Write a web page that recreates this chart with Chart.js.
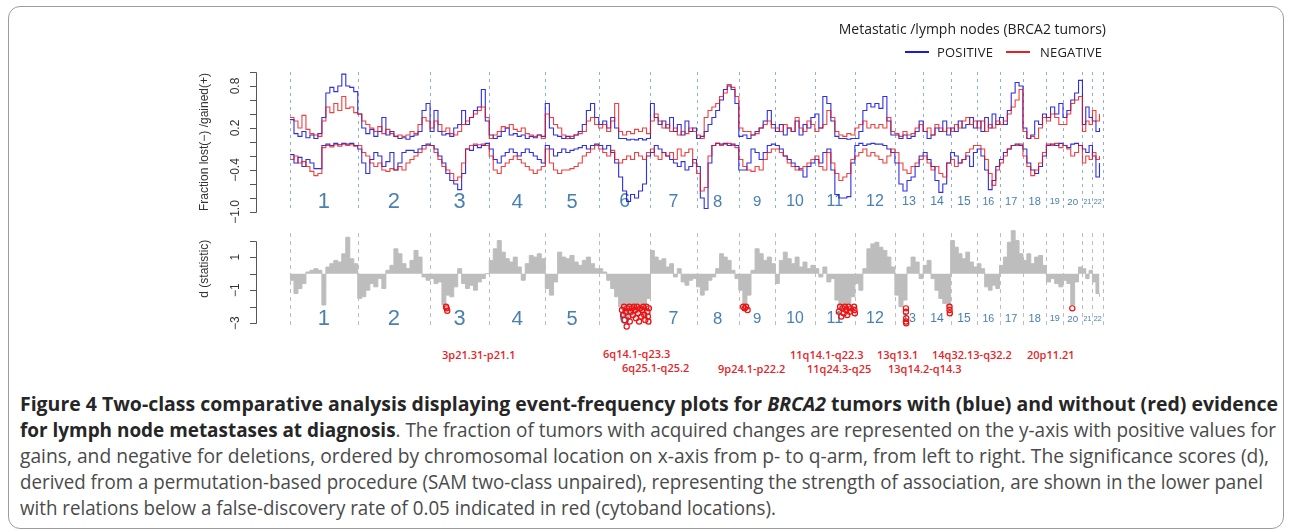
<!DOCTYPE html>
<html>
<head>
<meta charset="utf-8">
<title>Figure 4</title>
<script src="https://cdn.jsdelivr.net/npm/chart.js@4.4.1/dist/chart.umd.min.js"></script>
<style>
body { margin: 0; width: 1292px; height: 531px; background: #fff; overflow: hidden; position: relative; font-family: "Open Sans", sans-serif; }
#frame { position: absolute; left: 8px; top: 6px; width: 1274px; height: 521px; border: 1px solid #9c9c9c; border-radius: 12px; }
canvas { position: absolute; left: 0; }
#topChart { top: 0; }
#botChart { top: 220px; }
.abs { position: absolute; white-space: nowrap; }
#legTitle { right: 186px; top: 19px; font-size: 14px; color: #222; }
.legLine { position: absolute; height: 2px; width: 24px; }
.legText { position: absolute; top: 43px; font-size: 13px; color: #222; letter-spacing: 0.2px; }
.band { position: absolute; white-space: nowrap; font-size: 11px; font-weight: 600; color: #e3262a; line-height: 14px; }
.cap { position: absolute; left: 20px; white-space: nowrap; font-size: 20px; line-height: 26px; color: #4a4a4a; transform-origin: 0 50%; }
.cap b { color: #262626; }
</style>
</head>
<body>
<div id="frame"></div>
<canvas id="topChart" width="1292" height="225"></canvas>
<canvas id="botChart" width="1292" height="118"></canvas>

<div id="legTitle" class="abs">Metastatic /lymph nodes (BRCA2 tumors)</div>
<div class="legLine" style="left:905px; top:51px; background:#1a1ad8;"></div>
<div class="legText" style="left:937px;">POSITIVE</div>
<div class="legLine" style="left:1006px; top:51px; background:#e52222;"></div>
<div class="legText" style="left:1040px;">NEGATIVE</div>

<div id="bands"></div>

<div class="cap" data-fit="1258" style="top:391px;"><b>Figure 4 Two-class comparative analysis displaying event-frequency plots for <i>BRCA2</i> tumors with (blue) and without (red) evidence</b></div>
<div class="cap" data-fit="1256" style="top:417px;"><b>for lymph node metastases at diagnosis</b>. The fraction of tumors with acquired changes are represented on the y-axis with positive values for</div>
<div class="cap" data-fit="1249" style="top:443px;">gains, and negative for deletions, ordered by chromosomal location on x-axis from p- to q-arm, from left to right. The significance scores (d),</div>
<div class="cap" data-fit="1243" style="top:469px;">derived from a permutation-based procedure (SAM two-class unpaired), representing the strength of association, are shown in the lower panel</div>
<div class="cap" style="top:495px;">with relations below a false-discovery rate of 0.05 indicated in red (cytoband locations).</div>

<script>
// chromosomes and their plotted spans (Mb)
var chromosomes = ['1','2','3','4','5','6','7','8','9','10','11','12','13','14','15','16','17','18','19','20','21','22'];
var chromSpan = [237, 253, 207, 196, 187, 181, 161, 148, 128, 138, 140, 140, 99, 96, 93, 78, 82, 82, 58, 68, 35, 37];

// fraction gained / lost, per chromosome, p -> q
var posGain = [
  [0.32,0.12,0.08,0.15,0.06,0.10,0.05,0.12,0.35,0.70,0.78,0.72,0.80,0.97,0.80,0.78,0.72],
  [0.40,0.20,0.12,0.18,0.08,0.15,0.35,0.10,0.15,0.08,0.05,0.06,0.04,0.08,0.10,0.15,0.45,0.55],
  [0.15,0.45,0.15,0.10,0.12,0.08,0.20,0.25,0.45,0.25,0.35,0.45,0.50,0.75,0.30],
  [0.10,0.05,0.08,0.15,0.20,0.10,0.12,0.08,0.10,0.05,0.08,0.06,0.10,0.08],
  [0.55,0.20,0.10,0.08,0.05,0.08,0.05,0.10,0.15,0.25,0.45,0.55,0.35],
  [0.25,0.30,0.20,0.35,0.20,0.05,0.05,0.03,0.04,0.03,0.05,0.03,0.05],
  [0.55,0.35,0.25,0.30,0.20,0.35,0.15,0.25,0.10,0.30,0.15,0.20],
  [0.05,0.08,0.15,0.25,0.35,0.45,0.60,0.75,0.80,0.75,0.55],
  [0.08,0.10,0.05,0.10,0.15,0.20,0.30,0.45,0.25],
  [0.15,0.25,0.10,0.20,0.15,0.30,0.10,0.25,0.20,0.35],
  [0.40,0.20,0.65,0.55,0.30,0.08,0.05,0.05,0.04,0.05],
  [0.05,0.15,0.45,0.55,0.50,0.55,0.48,0.65,0.30,0.10],
  [0.10,0.05,0.10,0.05,0.08,0.15,0.30],
  [0.15,0.05,0.10,0.20,0.15,0.30,0.10],
  [0.20,0.15,0.30,0.20,0.25,0.35,0.20],
  [0.30,0.15,0.35,0.20,0.40,0.25],
  [0.35,0.25,0.45,0.70,0.85,0.80],
  [0.20,0.05,0.10,0.30,0.25,0.40],
  [0.35,0.50,0.40,0.55],
  [0.35,0.45,0.60,0.70,0.88],
  [0.25,0.50,0.35],
  [0.30,0.15,0.20]
];
var negGain = [
  [0.35,0.30,0.20,0.38,0.18,0.12,0.10,0.08,0.30,0.50,0.42,0.55,0.45,0.65,0.48,0.50,0.42],
  [0.40,0.30,0.25,0.20,0.15,0.22,0.12,0.18,0.12,0.08,0.10,0.08,0.10,0.15,0.12,0.25,0.35,0.30],
  [0.20,0.30,0.25,0.15,0.20,0.12,0.10,0.15,0.25,0.30,0.35,0.40,0.45,0.50,0.35],
  [0.05,0.10,0.15,0.22,0.20,0.25,0.18,0.15,0.20,0.12,0.10,0.08,0.10,0.05],
  [0.40,0.35,0.25,0.20,0.10,0.05,0.08,0.10,0.12,0.15,0.30,0.35,0.25],
  [0.20,0.25,0.15,0.30,0.55,0.15,0.10,0.15,0.12,0.18,0.15,0.20,0.12],
  [0.30,0.40,0.30,0.20,0.25,0.15,0.20,0.10,0.15,0.12,0.20,0.15],
  [0.10,0.05,0.35,0.45,0.50,0.55,0.65,0.70,0.82,0.78,0.65],
  [0.20,0.15,0.15,0.10,0.12,0.20,0.25,0.30,0.20],
  [0.20,0.15,0.25,0.20,0.15,0.35,0.20,0.15,0.30,0.25],
  [0.15,0.20,0.25,0.45,0.35,0.15,0.10,0.08,0.12,0.10],
  [0.20,0.25,0.30,0.20,0.25,0.20,0.25,0.20,0.35,0.15],
  [0.12,0.08,0.15,0.10,0.12,0.20,0.25],
  [0.15,0.20,0.10,0.25,0.20,0.15,0.20],
  [0.15,0.25,0.20,0.30,0.35,0.25,0.30],
  [0.20,0.30,0.15,0.25,0.20,0.30],
  [0.25,0.30,0.40,0.50,0.60,0.75],
  [0.15,0.05,0.08,0.05,0.20,0.35],
  [0.30,0.40,0.35,0.25],
  [0.25,0.40,0.55,0.60,0.65],
  [0.15,0.30,0.25],
  [0.45,0.30,0.40]
];
var posLoss = [
  [-0.18,-0.30,-0.22,-0.35,-0.25,-0.30,-0.38,-0.38,-0.05,-0.03,-0.05,-0.02,-0.04,-0.02,-0.03,-0.02,-0.05],
  [-0.10,-0.30,-0.45,-0.25,-0.15,-0.20,-0.35,-0.28,-0.15,-0.40,-0.30,-0.15,-0.12,-0.12,-0.15,-0.10,-0.05,-0.03],
  [-0.05,-0.10,-0.20,-0.30,-0.45,-0.55,-0.60,-0.68,-0.45,-0.10,-0.12,-0.05,-0.08,-0.05,-0.02],
  [-0.10,-0.25,-0.30,-0.20,-0.15,-0.10,-0.15,-0.20,-0.15,-0.10,-0.15,-0.20,-0.25,-0.30],
  [-0.05,-0.10,-0.20,-0.15,-0.10,-0.15,-0.12,-0.10,-0.08,-0.05,-0.10,-0.05,-0.03],
  [-0.05,-0.10,-0.05,-0.15,-0.30,-0.50,-0.70,-0.85,-0.75,-0.80,-0.70,-0.60,-0.20],
  [-0.15,-0.05,-0.10,-0.15,-0.20,-0.25,-0.30,-0.35,-0.28,-0.40,-0.35,-0.25],
  [-0.35,-0.80,-0.95,-0.30,-0.05,-0.02,-0.03,-0.02,-0.05,-0.03,-0.05],
  [-0.40,-0.40,-0.30,-0.10,-0.15,-0.25,-0.15,-0.05,-0.03],
  [-0.05,-0.10,-0.20,-0.25,-0.30,-0.35,-0.40,-0.50,-0.35,-0.30],
  [-0.25,-0.30,-0.15,-0.10,-0.40,-0.75,-0.80,-0.80,-0.78,-0.30],
  [-0.05,-0.02,-0.05,-0.03,-0.02,-0.03,-0.03,-0.05,-0.10,-0.15],
  [-0.30,-0.60,-0.70,-0.55,-0.50,-0.35,-0.20],
  [-0.15,-0.25,-0.35,-0.55,-0.72,-0.60,-0.30],
  [-0.15,-0.20,-0.30,-0.25,-0.20,-0.35,-0.15],
  [-0.10,-0.20,-0.40,-0.68,-0.55,-0.35],
  [-0.25,-0.15,-0.10,-0.05,-0.03,-0.05],
  [-0.10,-0.30,-0.40,-0.45,-0.35,-0.20],
  [-0.05,-0.03,-0.05,-0.02],
  [-0.05,-0.08,-0.03,-0.02,-0.05],
  [-0.10,-0.15,-0.05],
  [-0.20,-0.50,-0.30]
];
var negLoss = [
  [-0.25,-0.20,-0.30,-0.28,-0.35,-0.42,-0.48,-0.45,-0.08,-0.05,-0.07,-0.04,-0.06,-0.03,-0.05,-0.04,-0.06],
  [-0.05,-0.15,-0.20,-0.30,-0.35,-0.30,-0.40,-0.42,-0.38,-0.40,-0.35,-0.40,-0.30,-0.25,-0.20,-0.15,-0.10,-0.05],
  [-0.05,-0.15,-0.25,-0.35,-0.40,-0.45,-0.55,-0.50,-0.30,-0.10,-0.05,-0.03,-0.04,-0.03,-0.05],
  [-0.20,-0.40,-0.45,-0.35,-0.30,-0.25,-0.20,-0.25,-0.30,-0.35,-0.40,-0.45,-0.40,-0.35],
  [-0.10,-0.30,-0.40,-0.45,-0.40,-0.40,-0.38,-0.35,-0.30,-0.20,-0.15,-0.10,-0.05],
  [-0.10,-0.15,-0.20,-0.12,-0.25,-0.30,-0.25,-0.20,-0.25,-0.15,-0.20,-0.25,-0.15],
  [-0.10,-0.20,-0.25,-0.15,-0.20,-0.15,-0.25,-0.10,-0.20,-0.15,-0.10,-0.30],
  [-0.45,-0.70,-0.65,-0.20,-0.05,-0.02,-0.05,-0.03,-0.02,-0.05,-0.08],
  [-0.25,-0.35,-0.40,-0.42,-0.35,-0.40,-0.25,-0.15,-0.10],
  [-0.10,-0.15,-0.20,-0.30,-0.35,-0.40,-0.38,-0.35,-0.30,-0.25],
  [-0.20,-0.35,-0.40,-0.15,-0.30,-0.45,-0.55,-0.50,-0.45,-0.25],
  [-0.20,-0.15,-0.10,-0.20,-0.15,-0.20,-0.25,-0.30,-0.20,-0.10],
  [-0.15,-0.30,-0.40,-0.45,-0.35,-0.30,-0.25],
  [-0.20,-0.30,-0.40,-0.35,-0.45,-0.50,-0.30],
  [-0.25,-0.35,-0.30,-0.25,-0.15,-0.10,-0.05],
  [-0.05,-0.10,-0.25,-0.45,-0.62,-0.40],
  [-0.30,-0.20,-0.10,-0.05,-0.05,-0.03],
  [-0.20,-0.35,-0.48,-0.40,-0.30,-0.15],
  [-0.03,-0.05,-0.02,-0.08],
  [-0.05,-0.10,-0.20,-0.15,-0.05],
  [-0.30,-0.20,-0.25],
  [-0.15,-0.25,-0.20]
];

// SAM d statistic, per chromosome
var dStat = [
  [-0.4,-1.2,-0.9,-0.6,0.1,0.2,0.3,0.2,-1.9,0.4,0.6,0.8,0.7,1.2,2.2,0.9,0.6],
  [-1.5,-1.4,-1.0,-0.6,-0.8,-0.3,-0.9,0.2,0.5,1.5,1.2,0.6,0.3,0.8,1.4,1.0,-0.2,-0.4],
  [-0.3,-0.6,-0.5,-1.9,-1.3,-1.4,-0.8,0.3,-0.6,-0.9,-0.7,-1.0,-0.5,-0.3,0.0],
  [0.8,1.5,2.0,1.3,0.9,0.7,1.0,0.4,-0.4,0.6,1.1,1.0,1.2,0.9],
  [-0.9,-1.3,-0.5,1.3,1.0,0.9,1.1,0.7,0.5,0.8,1.0,0.6,0.3],
  [0.3,0.1,-0.4,-0.9,-1.4,-2.0,-2.4,-2.6,-2.5,-2.4,-2.3,-2.6,-1.5],
  [1.4,1.0,0.8,0.9,0.4,0.6,-0.2,0.3,-0.5,-0.7,-0.4,-0.3],
  [-0.8,-1.3,-1.0,-0.4,-0.2,0.3,1.2,1.0,0.8,0.2,-0.3],
  [-1.0,-2.0,-1.3,0.2,1.5,1.2,0.8,1.0,0.6],
  [-0.6,0.8,1.3,0.9,0.6,1.0,0.4,0.7,0.3,0.5],
  [0.3,-0.2,0.4,-0.5,-0.3,-1.6,-2.2,-2.0,-1.8,-1.4],
  [-0.6,-1.0,0.3,1.5,1.8,1.9,1.6,1.4,1.0,0.4],
  [-1.3,-2.0,-1.6,0.4,1.0,0.7,-0.3],
  [0.5,0.8,-0.3,-1.0,-1.5,-1.8,-2.0],
  [2.0,1.6,1.2,0.9,1.3,0.7,0.4],
  [0.6,0.3,-0.8,-1.0,-0.7,-0.9],
  [0.5,1.0,1.9,2.6,2.0,1.2],
  [0.8,1.2,0.6,1.0,1.1,0.5],
  [-0.5,-0.3,-0.6,-0.8],
  [-0.4,-0.6,-1.9,-0.5,0.4],
  [0.3,-0.3,0.2],
  [-0.5,-1.2,-1.4]
];

// FDR < 0.05 hits: [chromosome, position within chromosome (0-1), d]
var sigHits = [
  [3,0.27,-2.0],[3,0.28,-2.1],[3,0.29,-2.25],
  [6,0.45,-2.2],[6,0.47,-2.5],[6,0.49,-2.0],[6,0.50,-2.8],[6,0.52,-2.3],[6,0.54,-3.2],[6,0.55,-2.1],
  [6,0.57,-2.6],[6,0.59,-2.0],[6,0.60,-2.9],[6,0.62,-2.3],[6,0.64,-2.1],[6,0.66,-2.5],[6,0.68,-2.0],
  [6,0.70,-2.2],[6,0.72,-2.7],[6,0.74,-2.0],[6,0.76,-2.4],[6,0.78,-2.9],[6,0.80,-2.1],[6,0.82,-2.6],
  [6,0.84,-2.2],[6,0.86,-2.0],[6,0.88,-2.5],[6,0.90,-2.8],[6,0.92,-2.0],[6,0.94,-2.3],[6,0.95,-2.6],
  [6,0.96,-2.9],[6,0.97,-2.1],
  [9,0.12,-2.0],[9,0.16,-2.1],[9,0.20,-2.0],[9,0.24,-2.2],
  [11,0.60,-2.3],[11,0.63,-2.0],[11,0.66,-2.6],[11,0.69,-2.1],[11,0.72,-2.4],[11,0.75,-2.0],
  [11,0.78,-2.2],[11,0.81,-2.5],[11,0.84,-2.0],[11,0.87,-2.3],[11,0.90,-2.1],
  [11,0.98,-2.0],[11,0.99,-2.2],[11,1.0,-2.4],
  [13,0.39,-2.1],[13,0.39,-2.3],[13,0.40,-2.7],[13,0.39,-2.9],[13,0.40,-3.0],
  [14,0.96,-2.0],[14,0.96,-2.2],[14,0.97,-2.4],
  [20,0.48,-2.1]
];

// axis ticks and labels
var fracTicks = [1, 0.8, 0.6, 0.4, 0.2, 0, -0.2, -0.4, -0.6, -0.8, -1];
var fracLabels = [0.8, 0.2, -0.4, -1.0];
var dTicks = [2, 1, 0, -1, -2, -3];
var dLabels = [1, -1, -3];

// cytoband annotations under the lower panel
var bandLabels = [
  ['3p21.31-p21.1', 442, 348], ['6q14.1-q23.3', 603, 347], ['6q25.1-q25.2', 622, 361],
  ['9p24.1-p22.2', 718, 362], ['11q14.1-q22.3', 790, 348], ['11q24.3-q25', 807, 362],
  ['13q13.1', 877, 348], ['13q14.2-q14.3', 888, 362], ['14q32.13-q32.2', 932, 348],
  ['20p11.21', 1027, 348]
];

var chromStart = [];
var genomeLength = 0;
chromSpan.forEach(function(len) {
    chromStart.push(genomeLength);
    genomeLength += len;
});

function toPoints(series) {
    var pts = [];
    series.forEach(function(vals, c) {
        vals.forEach(function(v, i) {
            pts.push({x: chromStart[c] + i * chromSpan[c] / vals.length, y: v});
        });
    });
    return pts;
}

var hitPoints = sigHits.map(function(h) {
    return {x: chromStart[h[0] - 1] + h[1] * chromSpan[h[0] - 1], y: h[2]};
});

var genomePlugin = {
    id: 'genome',
    beforeDatasetsDraw: function(chart, args, opts) {
        var ctx = chart.ctx, xs = chart.scales.x, area = chart.chartArea;
        ctx.save();
        ctx.lineWidth = 1;
        ctx.strokeStyle = opts.divColor;
        ctx.setLineDash(opts.dash);
        chromStart.concat([genomeLength]).forEach(function(v) {
            var px = Math.round(xs.getPixelForValue(v)) + 0.5;
            ctx.beginPath();
            ctx.moveTo(px, area.top + opts.divTop);
            ctx.lineTo(px, area.bottom);
            ctx.stroke();
        });
        ctx.setLineDash([]);
        ctx.fillStyle = '#4a80b0';
        ctx.textAlign = 'center';
        ctx.textBaseline = 'middle';
        chromosomes.forEach(function(name, i) {
            var a = xs.getPixelForValue(chromStart[i]);
            var b = xs.getPixelForValue(chromStart[i] + chromSpan[i]);
            var size = Math.min(22, 4 + 0.3 * (b - a));
            ctx.font = size.toFixed(1) + 'px "Liberation Sans", Arial, sans-serif';
            ctx.fillText(name, (a + b) / 2, area.bottom - 10);
        });
        ctx.restore();
    },
    afterDraw: function(chart, args, opts) {
        var ctx = chart.ctx, ys = chart.scales.y;
        var ax = opts.axisX;
        ctx.save();
        ctx.strokeStyle = '#555';
        ctx.lineWidth = 1;
        ctx.beginPath();
        ctx.moveTo(ax + 0.5, Math.round(ys.getPixelForValue(opts.ticks[0])) + 0.5);
        ctx.lineTo(ax + 0.5, Math.round(ys.getPixelForValue(opts.ticks[opts.ticks.length - 1])) + 0.5);
        opts.ticks.forEach(function(t) {
            var py = Math.round(ys.getPixelForValue(t)) + 0.5;
            ctx.moveTo(ax - 6, py);
            ctx.lineTo(ax + 0.5, py);
        });
        ctx.stroke();
        ctx.fillStyle = '#333';
        ctx.font = '12px "Liberation Sans", Arial, sans-serif';
        ctx.textAlign = 'center';
        ctx.textBaseline = 'middle';
        opts.labels.forEach(function(t) {
            ctx.save();
            ctx.translate(ax - 20, ys.getPixelForValue(t));
            ctx.rotate(-Math.PI / 2);
            ctx.fillText(opts.intLabels ? String(t).replace('-', '\u2212') : t.toFixed(1).replace('-', '\u2212'), 0, 0);
            ctx.restore();
        });
        ctx.save();
        ctx.translate(ax - 51, ys.getPixelForValue(opts.titleAt));
        ctx.rotate(-Math.PI / 2);
        ctx.fillText(opts.title, 0, 0);
        ctx.restore();
        ctx.restore();
    }
};

var blue = 'rgba(10, 10, 225, 0.85)';
var red = 'rgba(235, 15, 15, 0.8)';

function stepLine(label, series, color) {
    return {
        label: label,
        data: toPoints(series),
        borderColor: color,
        borderWidth: 1.1,
        stepped: true,
        pointRadius: 0,
        fill: false
    };
}

new Chart(document.getElementById('topChart'), {
    type: 'line',
    data: {
        datasets: [
            stepLine('NEGATIVE gain', negGain, red),
            stepLine('NEGATIVE loss', negLoss, red),
            stepLine('POSITIVE gain', posGain, blue),
            stepLine('POSITIVE loss', posLoss, blue)
        ]
    },
    options: {
        responsive: false,
        animation: false,
        layout: {padding: {left: 290, right: 189, top: 72, bottom: 13}},
        scales: {
            x: {type: 'linear', min: 0, max: genomeLength, display: false},
            y: {min: -1, max: 1, display: false}
        },
        plugins: {
            legend: {display: false},
            tooltip: {enabled: false},
            genome: {
                divColor: '#8db2cf', dash: [3, 4], divTop: 0,
                axisX: 256, ticks: fracTicks, labels: fracLabels, intLabels: false,
                title: 'Fraction lost(\u2212) /gained(+)', titleAt: 0
            }
        }
    },
    plugins: [genomePlugin]
});

new Chart(document.getElementById('botChart'), {
    type: 'line',
    data: {
        datasets: [
            {
                type: 'scatter',
                label: 'FDR < 0.05',
                data: hitPoints,
                pointRadius: 2.6,
                pointBorderWidth: 1.2,
                pointBorderColor: '#ee1111',
                pointBackgroundColor: 'rgba(255,255,255,0)',
                clip: false,
                order: 0
            },
            {
                label: 'd (statistic)',
                data: toPoints(dStat),
                borderColor: '#bdbdbd',
                backgroundColor: '#bdbdbd',
                borderWidth: 1,
                stepped: true,
                pointRadius: 0,
                fill: 'origin',
                order: 1
            }
        ]
    },
    options: {
        responsive: false,
        animation: false,
        layout: {padding: {left: 290, right: 189, top: 9, bottom: 9}},
        scales: {
            x: {type: 'linear', min: 0, max: genomeLength, display: false},
            y: {min: -3.35, max: 2.7, display: false}
        },
        plugins: {
            legend: {display: false},
            tooltip: {enabled: false},
            genome: {
                divColor: '#bdbdbd', dash: [4, 4], divTop: 4,
                axisX: 256, ticks: dTicks, labels: dLabels, intLabels: true,
                title: 'd (statistic)', titleAt: 0.3
            }
        }
    },
    plugins: [genomePlugin]
});

var bandBox = document.getElementById('bands');
bandLabels.forEach(function(b) {
    var el = document.createElement('div');
    el.className = 'band';
    el.textContent = b[0];
    el.style.left = b[1] + 'px';
    el.style.top = b[2] + 'px';
    bandBox.appendChild(el);
});

function fitCaption() {
    var k = 1;
    document.querySelectorAll('.cap').forEach(function(el) {
        el.style.transform = 'none';
        if (el.dataset.fit) {
            k = +el.dataset.fit / el.getBoundingClientRect().width;
        }
        el.style.transform = 'scaleX(' + k + ')';
    });
}
fitCaption();
if (document.fonts && document.fonts.ready) document.fonts.ready.then(fitCaption);
</script>
</body>
</html>
